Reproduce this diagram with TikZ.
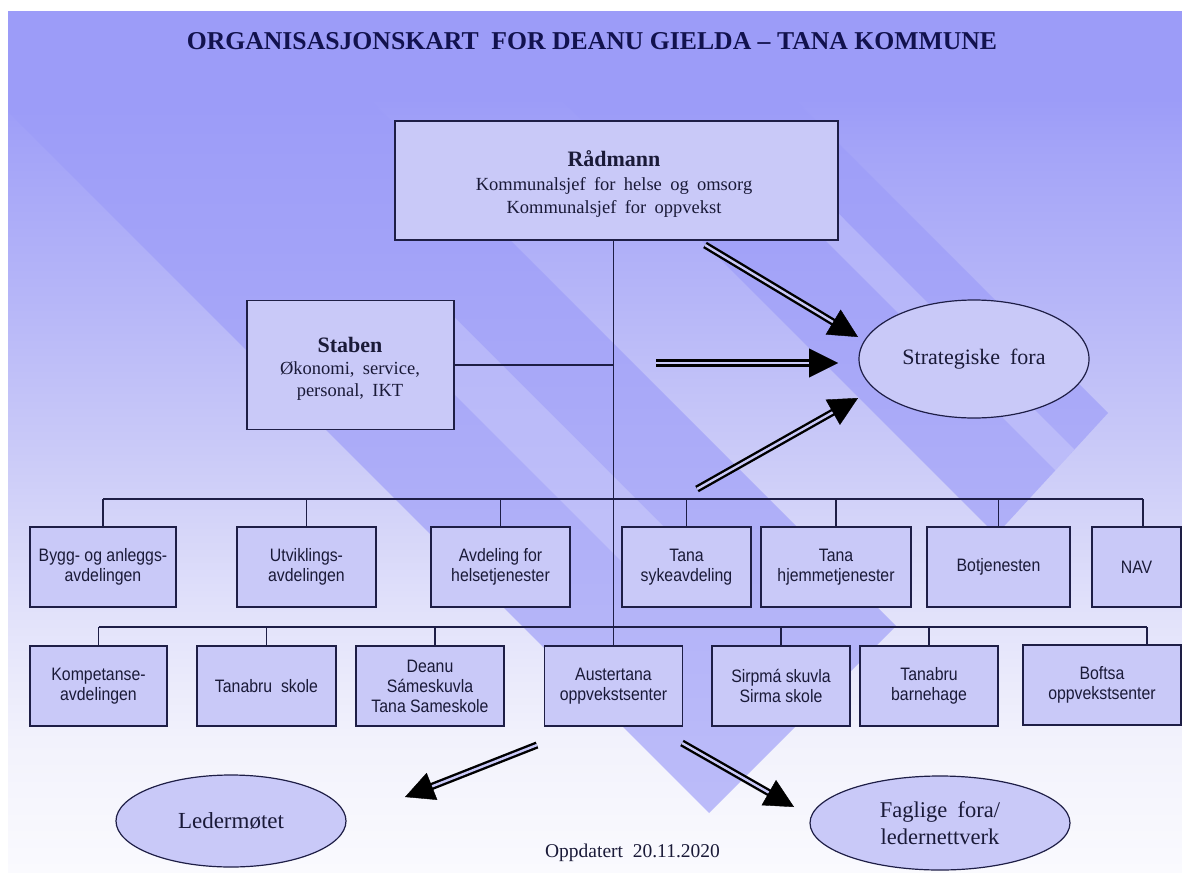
\documentclass[tikz,border=0pt]{standalone}
\usepackage{fontspec}
\setmainfont{Liberation Serif}
\newfontfamily\arialf[FakeStretch=0.88]{Liberation Sans}
\usetikzlibrary{arrows.meta,calc,shapes.geometric}

\definecolor{bgtop}{HTML}{9C9CF8}
\definecolor{bgA}{HTML}{A4A4F8}
\definecolor{bgB}{HTML}{B6B6F8}
\definecolor{bgC}{HTML}{CACAF8}
\definecolor{bgD}{HTML}{E0E0FA}
\definecolor{bgE}{HTML}{F2F2FC}
\definecolor{bgbot}{HTML}{FAFAFE}
\definecolor{bandcol}{HTML}{9C9CF8}
\definecolor{boxfill}{HTML}{C9C9F8}
\definecolor{boxline}{HTML}{1E1E46}
\definecolor{ink}{HTML}{1A1A38}
\definecolor{titleink}{HTML}{12124E}

\newcommand\mywidesp{\spaceskip=0.45em\relax}

% path box maps to 25bp (bottom, y=872) .. 75bp (top, y=12)
\pgfdeclareverticalshading{bgshade}{100bp}{color(0bp)=(bgbot); color(25bp)=(bgbot); color(32.7bp)=(bgE); color(40.8bp)=(bgD); color(49.5bp)=(bgC); color(58.3bp)=(bgB); color(67bp)=(bgA); color(70bp)=(bgtop); color(100bp)=(bgtop)}

\begin{document}
\begin{tikzpicture}[x=1pt,y=-1pt,
  rbox/.style={draw=boxline, fill=boxfill, line width=1.5pt, inner sep=0pt, align=center, text=ink, font=\arialf\fontsize{18}{20}\selectfont},
  conn/.style={draw=boxline, line width=1.1pt},
  ell/.style={ellipse, draw=boxline, fill=boxfill, line width=1.2pt, inner sep=0pt, align=center, text=ink},
  hdr/.style={font=\bfseries\fontsize{22}{26}\selectfont, text=ink, inner sep=0pt, anchor=base},
  sub/.style={font=\fontsize{18.5}{22}\selectfont\mywidesp, text=ink, inner sep=0pt, anchor=base},
  shaft/.style={draw=black, line width=2.4pt, double=boxfill, double distance=2.4pt, shorten >=20pt},
  head/.style={draw=black, line width=0.4pt, -{Triangle[length=29pt,width=29pt]}},
]
\useasboundingbox (0,0) rectangle (1182,872);
\fill[white] (0,0) rectangle (1182,872);
\shade[shading=bgshade] (8,12) rectangle (1182,872);
\begin{scope}
  \clip (8,12) rectangle (1182,872);
  % two wide diagonal bands with square lower ends
  \fill[bandcol, opacity=0.65]
    (-92,12) -- (282,12) -- (896,626) -- (709,813) -- cycle
    (473,12) -- (707,12) -- (1108,413) -- (996,535) -- cycle;
  % lighter stripes inside the bands (their upper ends hide behind boxes)
  \fill[white, opacity=0.2]
    (410,350) -- (448.5,311.5) -- (693.5,556.5) -- (655,595) -- cycle
    (792.5,207.5) -- (812.5,187.5) -- (1074.4,449.5) -- (1055.4,470.3) -- cycle;
\end{scope}

% title
\node[font=\bfseries\fontsize{25.7}{30}\selectfont, text=titleink, anchor=base, inner sep=0pt] (title) at (592,50) {ORGANISASJONSKART\ \ FOR DEANU GIELDA -- TANA KOMMUNE};

% top boxes
\node[draw=boxline, fill=boxfill, line width=1.5pt, minimum width=443pt, minimum height=119pt, inner sep=0pt] (radm) at (616.5,180.5) {};
\node[hdr] (radmT) at (614,166) {Rådmann};
\node[sub] (radmL1) at (614,190.5) {Kommunalsjef for helse og omsorg};
\node[sub] (radmL2) at (614,213) {Kommunalsjef for oppvekst};

\node[draw=boxline, fill=boxfill, line width=1.5pt, minimum width=207pt, minimum height=129pt, inner sep=0pt] (staben) at (350.5,365) {};
\node[hdr] (stabT) at (350,352) {Staben};
\node[sub] (stabL1) at (350,374.5) {Økonomi, service,};
\node[sub] (stabL2) at (350,396.5) {personal, IKT};

% ellipses
\node[ell, minimum width=230pt, minimum height=118pt, font=\fontsize{22}{27}\selectfont\mywidesp] (strat) at (974,359) {Strategiske fora};
\node[ell, minimum width=230pt, minimum height=92pt, font=\fontsize{23}{27}\selectfont] (leder) at (231,821) {Ledermøtet};
\node[ell, minimum width=260pt, minimum height=94pt, font=\fontsize{22.5}{27}\selectfont\mywidesp] (faglig) at (940,823) {Faglige fora/\\ledernettverk};

% row 1
\node[rbox, minimum width=146pt, minimum height=80pt] (bygg) at (103,567) {Bygg- og anleggs-\\avdelingen};
\node[rbox, minimum width=139pt, minimum height=80pt] (utv) at (306.5,567) {Utviklings-\\avdelingen};
\node[rbox, minimum width=139pt, minimum height=80pt] (avd) at (500.5,567) {Avdeling for\\helsetjenester};
\node[rbox, minimum width=129pt, minimum height=80pt] (tsyk) at (686.5,567) {Tana\\sykeavdeling};
\node[rbox, minimum width=150pt, minimum height=80pt] (thjem) at (836,567) {Tana\\hjemmetjenester};
\node[rbox, minimum width=143pt, minimum height=80pt] (botj) at (998.5,567) {Botjenesten};
\node[rbox, minimum width=89pt, minimum height=80pt] (nav) at (1136.5,567) {NAV};

% row 2
\node[rbox, minimum width=137pt, minimum height=80pt] (komp) at (98.5,686) {Kompetanse-\\avdelingen};
\node[rbox, minimum width=139pt, minimum height=80pt] (tskole) at (266.5,686) {Tanabru\ \ skole};
\node[rbox, minimum width=148pt, minimum height=80pt] (deanu) at (430,686) {Deanu\\Sámeskuvla\\Tana Sameskole};
\node[rbox, minimum width=138pt, minimum height=80pt] (auster) at (613.5,686) {Austertana\\oppvekstsenter};
\node[rbox, minimum width=138pt, minimum height=80pt] (sirpma) at (781,686) {Sirpmá skuvla\\Sirma skole};
\node[rbox, minimum width=138pt, minimum height=80pt] (tbh) at (929,686) {Tanabru\\barnehage};
\node[rbox, minimum width=158pt, minimum height=80pt] (boftsa) at (1102,685) {Boftsa\\oppvekstsenter};

% connectors
\coordinate (b1) at (0,499);
\coordinate (b2) at (0,627);
\draw[conn] (radm.south -| auster.north) -- (auster.north);
\draw[conn] (staben.east) -- (staben.east -| auster.north);
\draw[conn] (bygg.north |- b1) -- ([xshift=6.5pt]nav.north |- b1);
\foreach \n in {bygg,utv,avd,tsyk,thjem,botj} {\draw[conn] (\n.north) -- (\n.north |- b1);}
\draw[conn] ([xshift=6.5pt]nav.north) -- ([xshift=6.5pt]nav.north |- b1);
\draw[conn] (komp.north |- b2) -- ([xshift=45pt]boftsa.north |- b2);
\foreach \n in {komp,tskole,sirpma,tbh} {\draw[conn] (\n.north) -- (\n.north |- b2);}
\draw[conn] ([xshift=5pt]deanu.north) -- ([xshift=5pt]deanu.north |- b2);
\draw[conn] ([xshift=45pt]boftsa.north) -- ([xshift=45pt]boftsa.north |- b2);

% big double arrows
\coordinate (a1s) at (705,245);  \coordinate (a1e) at (858,337);
\coordinate (a2s) at (656,363);  \coordinate (a2e) at (838,363);
\coordinate (a3s) at (697,489);  \coordinate (a3e) at (858,398);
\coordinate (a4s) at (537,745);  \coordinate (a4e) at (405,797);
\coordinate (a5s) at (682,743);  \coordinate (a5e) at (794,807);
\foreach \s/\e in {a1s/a1e,a2s/a2e,a3s/a3e,a4s/a4e,a5s/a5e} {
  \draw[shaft] (\s) -- (\e);
  \draw[head] ($(\e)!28pt!(\s)$) -- (\e);
}

\node[font=\fontsize{19.5}{22}\selectfont, text=ink, anchor=base, inner sep=0pt] (dato) at (632.5,857) {Oppdatert\ \ 20.11.2020};
\end{tikzpicture}
\end{document}
